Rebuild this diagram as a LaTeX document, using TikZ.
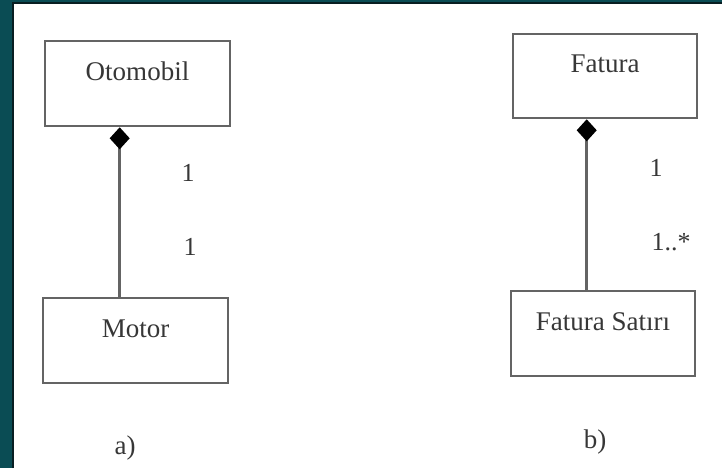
\documentclass[tikz,border=0pt]{standalone}
\usepackage{fontspec}
\setmainfont{Liberation Serif}
\usetikzlibrary{arrows.meta}
\definecolor{frameteal}{RGB}{10,76,84}
\definecolor{frameedge}{RGB}{8,30,34}
\definecolor{ink}{RGB}{55,55,55}
\definecolor{rulegray}{RGB}{100,100,100}
\begin{document}
\begin{tikzpicture}[x=1pt,y=-1pt,
  classbox/.style={draw=rulegray, line width=2.6pt, fill=white,
    minimum width=185pt, minimum height=85pt, inner sep=0pt,
    text height=19pt, text depth=25pt,
    font=\fontsize{27}{30}\selectfont, text=ink},
  composition/.style={draw=rulegray, line width=2.6pt,
    {Diamond[length=22pt,width=20pt,color=black,fill=black]}-},
  mult/.style={font=\fontsize{26}{30}\selectfont, text=ink, inner sep=0pt},
  caption/.style={font=\fontsize{27}{30}\selectfont, text=ink, inner sep=0pt}]

% page frame
\useasboundingbox (0,0) rectangle (722,468);
\fill[frameteal] (0,0) rectangle (722,468);
\fill[white] (14,4) rectangle (722,468);
\draw[frameedge, line width=2pt] (13,468) -- (13,3) -- (722,3);

% a) car and engine
\node[classbox] (oto) at (137.5,83.5) {Otomobil};
\node[classbox] (motor) at (135.5,340.5) {Motor};
\draw[composition] ([xshift=76pt]oto.south west) -- ([xshift=78pt]motor.north west);
\node[mult] (m1) at (188,173) {1};
\node[mult] (m2) at (190,247) {1};
\node[caption] (ca) at (125,448) {a)};

% b) invoice and invoice lines
\node[classbox, minimum width=184pt, minimum height=84pt] (fatura) at (605,76) {Fatura};
\node[classbox, minimum width=184pt] (satir) at (603,333.5) {Fatura Satırı};
\draw[composition] ([xshift=75pt]fatura.south west) -- ([xshift=77pt]satir.north west);
\node[mult] (m3) at (656,168) {1};
\node[mult] (m4) at (671,242) {1..*};
\node[caption] (cb) at (595,442) {b)};

\end{tikzpicture}
\end{document}
